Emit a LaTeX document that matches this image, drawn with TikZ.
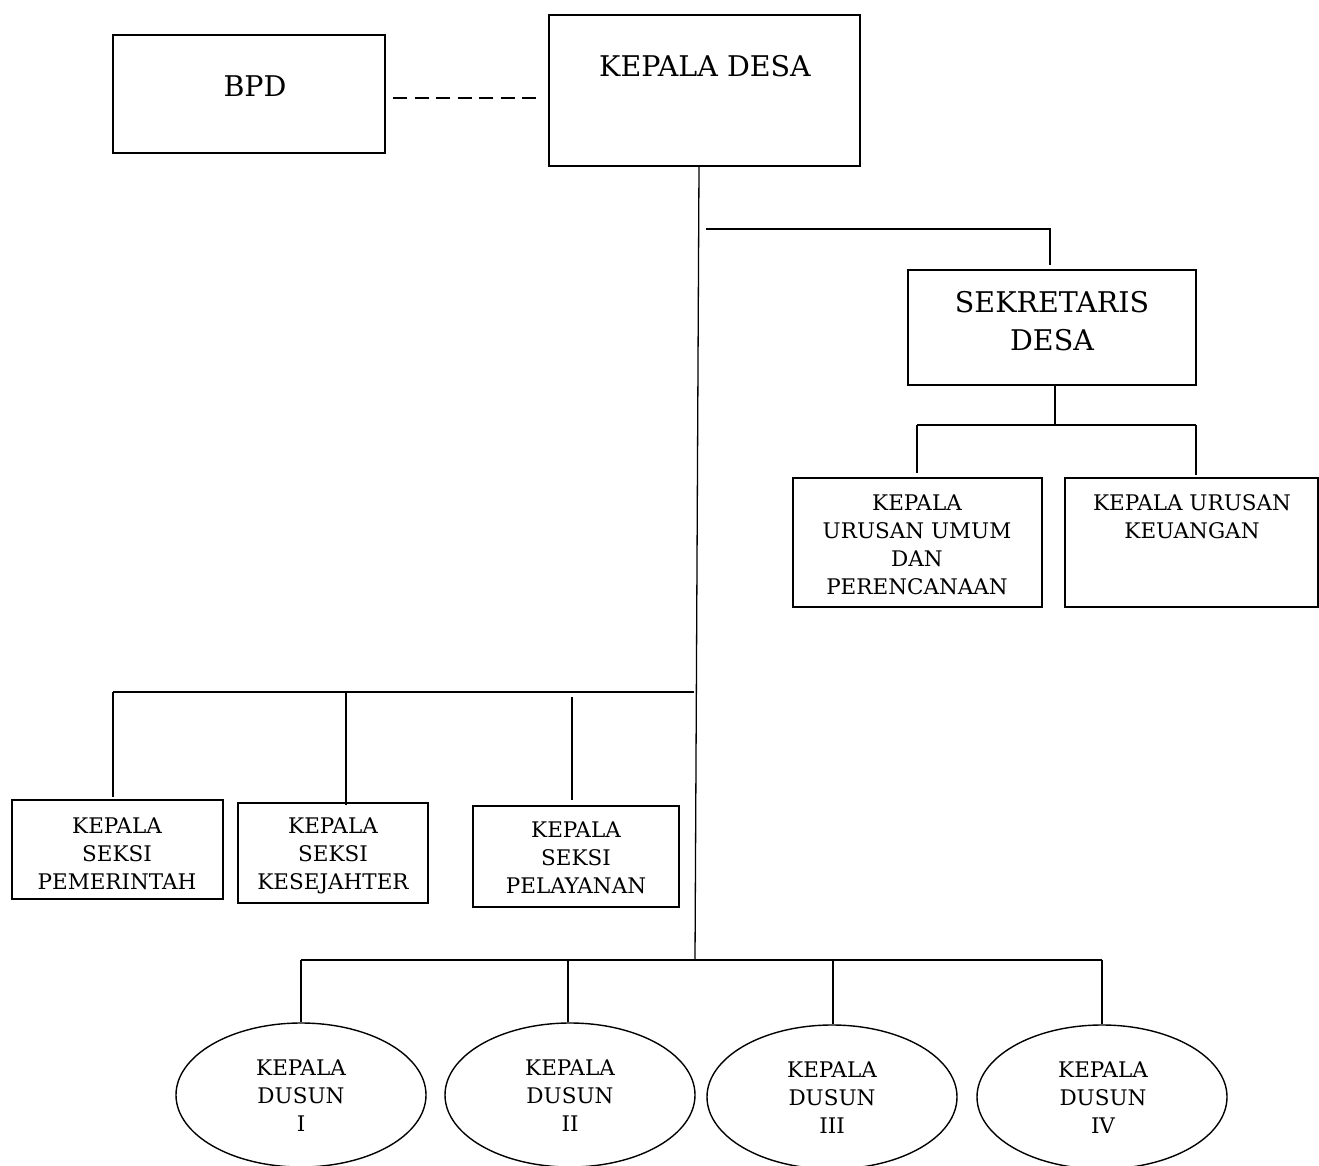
\documentclass[tikz,border=0pt]{standalone}
\usepackage{fontspec}
\setmainfont{DejaVu Serif}
\usetikzlibrary{shapes.geometric}
\begin{document}
\begin{tikzpicture}[x=1pt,y=-1pt,
  box/.style={draw=black,line width=1.5pt,inner sep=0pt,rectangle},
  oval/.style={draw=black,line width=1.4pt,inner sep=0pt,ellipse,minimum width=250pt,minimum height=144pt},
  big/.style={inner sep=0pt,align=center,font=\fontsize{28.5}{38}\selectfont},
  small/.style={inner sep=0pt,align=center,font=\fontsize{21.5}{28}\selectfont},
  conn/.style={line width=1.3pt,draw=black},
  dashconn/.style={line width=1.5pt,draw=black,dash pattern=on 14pt off 7.5pt}]
\useasboundingbox[fill=white] (0,0) rectangle (1319,1166);
% boxes
\node[box,minimum width=272pt,minimum height=118pt] (bpd) at (249,94) {};
\node[big] (bpdt) at (255,86) {BPD};
\node[box,minimum width=311pt,minimum height=151pt] (kd) at (704.5,90.5) {};
\node[big] (kdt) at (705,66) {KEPALA DESA};
\node[box,minimum width=288pt,minimum height=115pt] (sek) at (1052,327.5) {};
\node[big] (sekt) at (1052,321) {SEKRETARIS\\DESA};
\node[box,minimum width=249pt,minimum height=129pt] (umum) at (917.5,542.5) {};
\node[small] (umumt) at (917,545) {KEPALA\\URUSAN UMUM\\DAN\\PERENCANAAN};
\node[box,minimum width=253pt,minimum height=129pt] (keu) at (1191.5,542.5) {};
\node[small] (keut) at (1192,517) {KEPALA URUSAN\\KEUANGAN};
\node[box,minimum width=211pt,minimum height=99pt] (pem) at (117.5,849.5) {};
\node[small] (pemt) at (117,854) {KEPALA\\SEKSI\\PEMERINTAH};
\node[box,minimum width=190pt,minimum height=100pt] (kes) at (333,853) {};
\node[small] (kest) at (333,856) {KEPALA\\SEKSI\\KESEJAHTER};
\node[box,minimum width=206pt,minimum height=101pt] (pel) at (576,856.5) {};
\node[small] (pelt) at (576,858) {KEPALA\\SEKSI\\PELAYANAN};
% ellipses
\node[oval] (d1) at (301,1095) {};
\node[small] (d1t) at (301,1096) {KEPALA\\DUSUN\\I};
\node[oval] (d2) at (570,1095) {};
\node[small] (d2t) at (570,1096) {KEPALA\\DUSUN\\II};
\node[oval] (d3) at (832,1097) {};
\node[small] (d3t) at (832,1098) {KEPALA\\DUSUN\\III};
\node[oval] (d4) at (1102,1097) {};
\node[small] (d4t) at (1103,1098) {KEPALA\\DUSUN\\IV};
% coordinates
\coordinate (dash0) at (393,98);
\coordinate (dash1) at (540,98);
\coordinate (mtop) at (699,166);
\coordinate (mbot) at (695,960);
\coordinate (s0) at (706,229);
\coordinate (s1) at (1050,265);
\coordinate (u0) at (917,425);
\coordinate (u1) at (1196,425);
\coordinate (k0) at (113,692);
\coordinate (k1) at (694,692);
\coordinate (k2) at (572,697);
\coordinate (t0) at (301,960);
\coordinate (t1) at (1102,960);
% connectors
\draw[dashconn] (dash0) -- (dash1);
\draw[conn] (mtop) -- (mbot);
\draw[conn] (s0) -| (s1);
\draw[conn] (sek.south -| 1055,0) -- (1055,425);
\draw[conn] (u0) -- (u1);
\draw[conn] (u0) -- (917,473);
\draw[conn] (u1) -- (1196,475);
\draw[conn] (k0) -- (k1);
\draw[conn] (k0) -- (113,797);
\draw[conn] (346,692) -- (346,805);
\draw[conn] (k2) -- (572,800);
\draw[conn] (t0) -- (t1);
\draw[conn] (t0) -- (d1.north);
\draw[conn] (568,960) -- (d2.north -| 568,0);
\draw[conn] (833,960) -- (d3.north -| 833,0);
\draw[conn] (t1) -- (d4.north);
\end{tikzpicture}
\end{document}
